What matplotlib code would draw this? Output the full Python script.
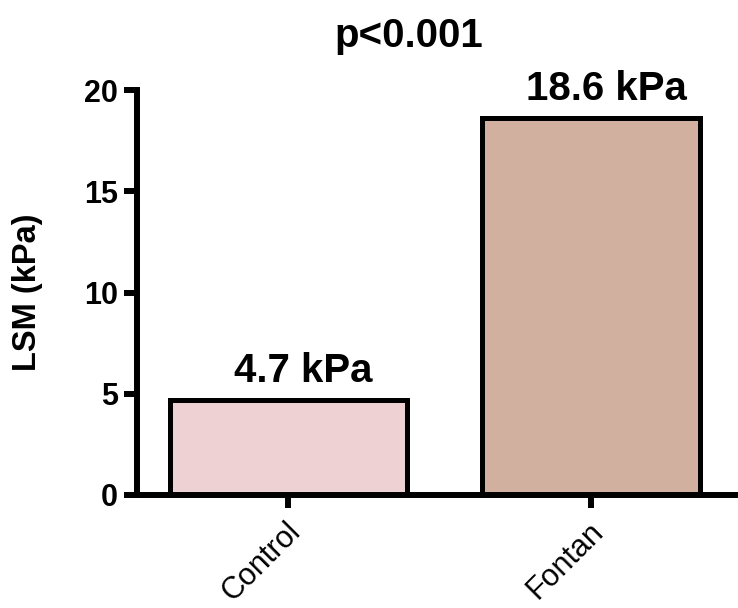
import matplotlib
matplotlib.use("Agg")
import matplotlib.pyplot as plt
from matplotlib.transforms import ScaledTranslation

# Liver stiffness measurement by group
groups = ["Control", "Fontan"]
lsm_kpa = [4.7, 18.6]
value_labels = ["4.7 kPa", "18.6 kPa"]
y_ticks = [0, 5, 10, 15, 20]
p_text = "p<0.001"

fill_colors = ["#EED1D3", "#D1B0A0"]
bar_widths = [0.78, 0.72]

plt.rcParams["font.family"] = ["Liberation Sans", "DejaVu Sans"]

fig = plt.figure(figsize=(7.38, 6.08), dpi=100)
ax = fig.add_axes([137 / 738, 1 - 495 / 608, 601 / 738, 405 / 608])

x = list(range(len(groups)))
bars = ax.bar(x, lsm_kpa, width=bar_widths, color=fill_colors,
              edgecolor="black", linewidth=3.6, zorder=3)

for xi, val, lab in zip(x, lsm_kpa, value_labels):
    ax.annotate(lab, (xi, val), xytext=(11, 13), textcoords="offset points",
                ha="center", va="baseline", fontsize=29, fontweight="bold")

ax.set_xlim(-0.5, 1.484)
ax.set_ylim(0, 20)
ax.set_yticks(y_ticks)
ax.set_yticklabels([str(t) for t in y_ticks], fontsize=22, fontweight="bold")
ax.set_xticks(x)
ax.set_xticklabels(groups, fontsize=22, rotation=45, ha="right",
                   rotation_mode="anchor")
ax.set_ylabel("LSM (kPa)", fontsize=23.5, fontweight="bold", labelpad=30)

for side in ("top", "right"):
    ax.spines[side].set_visible(False)
for side in ("left", "bottom"):
    ax.spines[side].set_linewidth(4.3)
    ax.spines[side].set_zorder(4)
ax.tick_params(axis="both", width=4.3, length=9.5, pad=4)
ax.tick_params(axis="x", pad=6)

shift = ScaledTranslation(-3 / 100, 0, fig.dpi_scale_trans)
for lbl in ax.get_xticklabels():
    lbl.set_transform(lbl.get_transform() + shift)

ax.text(0.4526, 1.106, p_text, transform=ax.transAxes, ha="center",
        va="baseline", fontsize=29, fontweight="bold")

fig.savefig("out.png", dpi=100)
